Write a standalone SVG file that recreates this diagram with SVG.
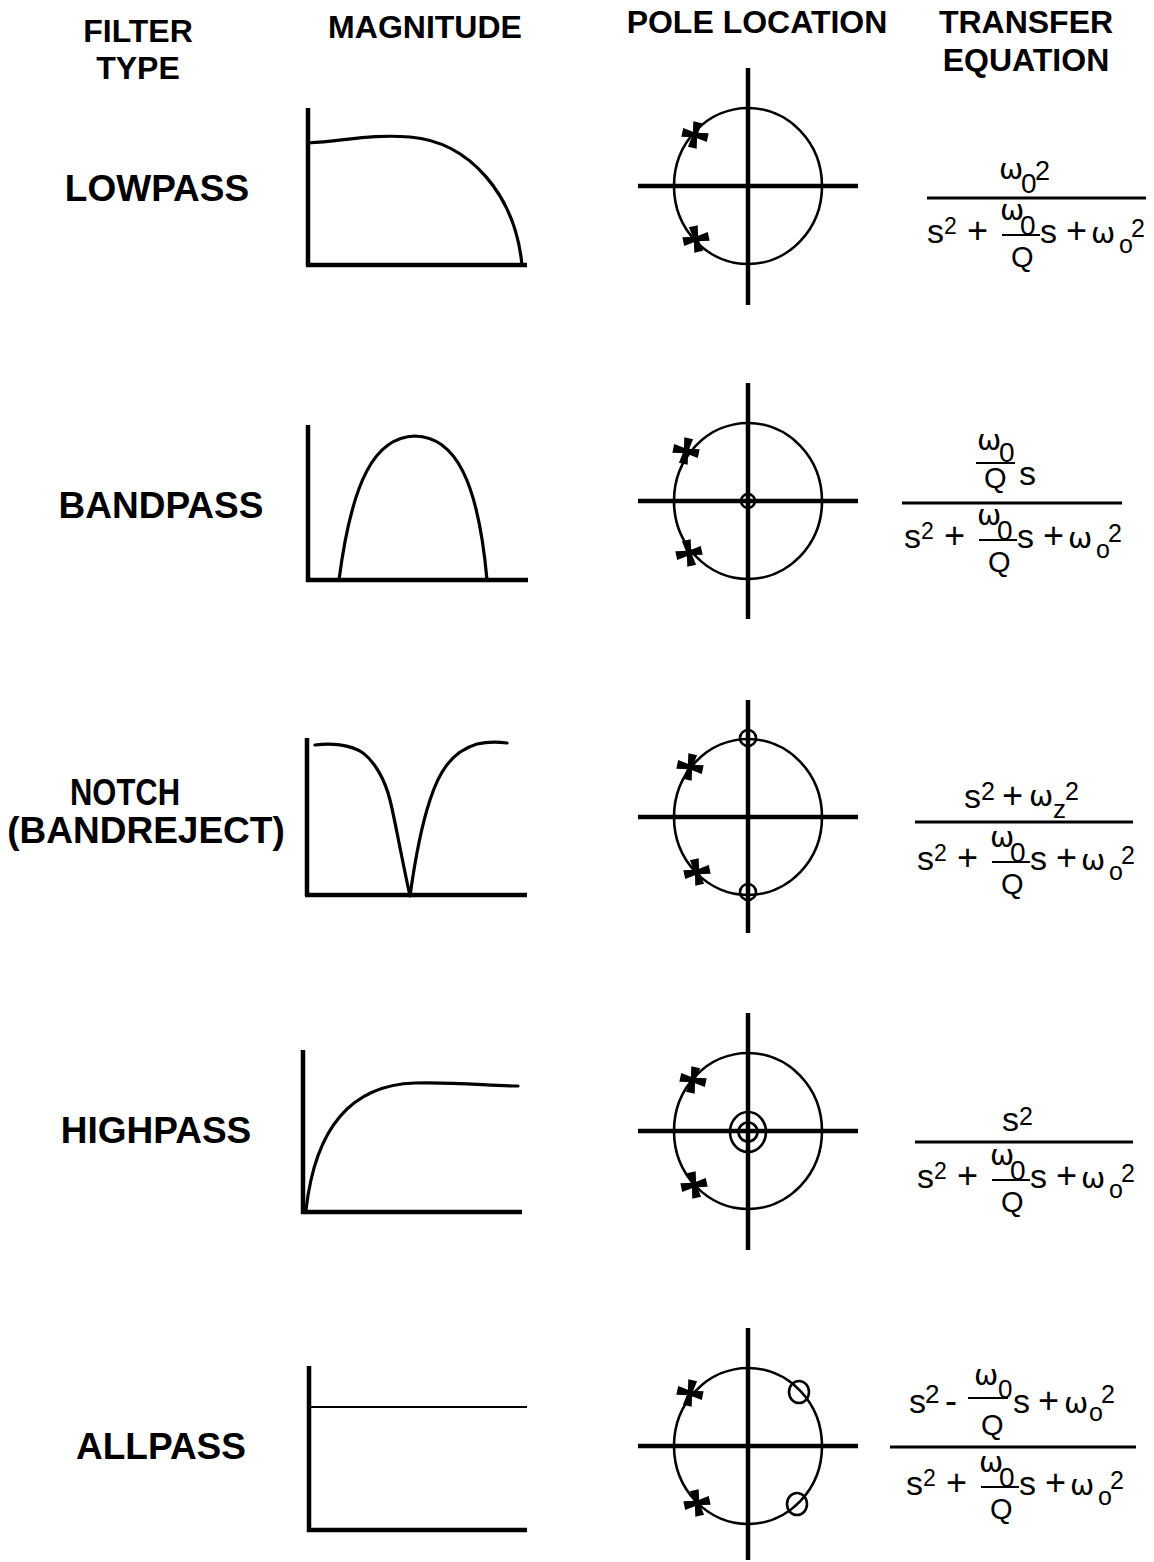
<svg xmlns="http://www.w3.org/2000/svg" xmlns:xlink="http://www.w3.org/1999/xlink" width="1154" height="1562" viewBox="0 0 1154 1562">
<style>
text{font-family:"Liberation Sans",Arial,sans-serif;fill:#000}
.hd{font-size:32px;font-weight:bold;text-anchor:middle}
.lb{font-size:37px;font-weight:bold;text-anchor:middle}
.m{font-size:34px}
.pl{font-size:36px}
.w{font-size:29px;font-family:"DejaVu Sans",sans-serif}
.d{font-size:28px}
.q{font-size:29px}
.s1{font-size:23px}
.s2{font-size:25px}
.ax{stroke:#000;stroke-width:4.5;fill:none}
.cv{stroke:#000;stroke-width:3.2;fill:none;stroke-linecap:round;stroke-linejoin:round}
.ci{stroke:#000;stroke-width:2.6;fill:none}
.bar{stroke:#000;stroke-width:3.2}
.sb{stroke:#000;stroke-width:2}
</style>
<defs>
<g id="pole" fill="#000">
<path d="M-4.5,-13 L4.5,-13 L2.2,0 L4.5,13 L-4.5,13 L-2.2,0 Z"/>
<path d="M-13,-4.5 L-13,4.5 L0,2.2 L13,4.5 L13,-4.5 L0,-2.2 Z"/>
</g>
<g id="den">
<text class="m" x="-1" y="0">s</text>
<text class="s1" x="16" y="-9">2</text>
<text class="pl" x="39" y="0">+</text>
<text class="w" x="72" y="-23">ω</text>
<text class="d" x="92" y="-8">0</text>
<line class="sb" x1="74" y1="-8" x2="112" y2="-8"/>
<text class="q" x="83" y="24">Q</text>
<text class="m" x="112" y="0">s</text>
<text class="pl" x="138" y="0">+</text>
<text class="w" x="163" y="0">ω</text>
<text class="s2" x="191" y="10">o</text>
<text class="s2" x="203" y="-6">2</text>
</g>
</defs>
<rect width="1154" height="1562" fill="#fff"/>

<g id="headers">
<text class="hd" x="138" y="42">FILTER</text>
<text class="hd" x="138" y="79">TYPE</text>
<text class="hd" x="425" y="38">MAGNITUDE</text>
<text class="hd" x="757" y="33">POLE LOCATION</text>
<text class="hd" x="1026" y="33">TRANSFER</text>
<text class="hd" x="1026" y="71">EQUATION</text>
</g>

<!-- Row 1 LOWPASS -->
<g id="lowpass-label"><text class="lb" x="157" y="201">LOWPASS</text></g>
<g id="lowpass-magnitude">
<line class="ax" x1="308" y1="108" x2="308" y2="266"/>
<line class="ax" x1="306" y1="265" x2="527" y2="265"/>
<path class="cv" d="M308,143 C345,141 370,134 410,137 C470,142 515,195 522,265"/>
</g>
<g id="lowpass-poles">
<ellipse class="ci" cx="748" cy="186" rx="74" ry="78"/>
<line class="ax" x1="638" y1="186" x2="858" y2="186"/>
<line class="ax" x1="748" y1="68" x2="748" y2="305"/>
<use xlink:href="#pole" transform="translate(695,135) rotate(12)"/>
<use xlink:href="#pole" transform="translate(696,239) rotate(-12)"/>
</g>
<g id="lowpass-equation">
<text class="w" x="999" y="179">ω</text>
<text class="d" x="1021" y="193">0</text>
<text class="s2" x="1035" y="180" style="font-size:27px">2</text>
<line class="bar" x1="927" y1="198" x2="1146" y2="198"/>
<use xlink:href="#den" transform="translate(928,243)"/>
</g>

<!-- Row 2 BANDPASS -->
<g id="bandpass-label"><text class="lb" x="161" y="518">BANDPASS</text></g>
<g id="bandpass-magnitude">
<line class="ax" x1="308" y1="425" x2="308" y2="582"/>
<line class="ax" x1="306" y1="580" x2="528" y2="580"/>
<path class="cv" d="M339,580 C352,480 375,437 415,436 C455,437 478,480 487,580"/>
</g>
<g id="bandpass-poles">
<ellipse class="ci" cx="748" cy="501" rx="74" ry="78"/>
<line class="ax" x1="638" y1="501" x2="858" y2="501"/>
<line class="ax" x1="748" y1="383" x2="748" y2="619"/>
<circle class="ci" cx="748" cy="501" r="7"/>
<use xlink:href="#pole" transform="translate(686,451) rotate(12)"/>
<use xlink:href="#pole" transform="translate(689,553) rotate(-12)"/>
</g>
<g id="bandpass-equation">
<text class="w" x="977" y="450">ω</text>
<text class="d" x="999" y="462">0</text>
<line class="sb" x1="976" y1="463" x2="1015" y2="463"/>
<text class="q" x="984" y="488">Q</text>
<text class="m" x="1019" y="485">s</text>
<line class="bar" x1="902" y1="503" x2="1122" y2="503"/>
<use xlink:href="#den" transform="translate(905,548)"/>
</g>

<!-- Row 3 NOTCH -->
<g id="notch-label">
<text class="lb" x="125" y="805" textLength="110" lengthAdjust="spacingAndGlyphs">NOTCH</text>
<text class="lb" x="146" y="843">(BANDREJECT)</text>
</g>
<g id="notch-magnitude">
<line class="ax" x1="307" y1="738" x2="307" y2="896"/>
<line class="ax" x1="305" y1="895" x2="527" y2="895"/>
<path class="cv" d="M315,745 C330,743 350,744 363,753 C375,762 385,780 390,800 C395,820 400,850 410,896 C415,860 420,830 430,800 C438,775 450,752 477,744 C490,741 500,742 507,743"/>
</g>
<g id="notch-poles">
<ellipse class="ci" cx="748" cy="817" rx="74" ry="78"/>
<line class="ax" x1="638" y1="817" x2="858" y2="817"/>
<line class="ax" x1="748" y1="700" x2="748" y2="933"/>
<circle class="ci" cx="748" cy="738" r="8"/>
<circle class="ci" cx="748" cy="892" r="8"/>
<use xlink:href="#pole" transform="translate(690,767) rotate(12)"/>
<use xlink:href="#pole" transform="translate(697,872) rotate(-12)"/>
</g>
<g id="notch-equation">
<text class="m" x="964" y="808">s</text>
<text class="s2" x="981" y="800">2</text>
<text class="pl" x="1002" y="808">+</text>
<text class="w" x="1029" y="806">ω</text>
<text class="s2" x="1053" y="818" style="font-size:26px">z</text>
<text class="s2" x="1065" y="800">2</text>
<line class="bar" x1="915" y1="822" x2="1133" y2="822"/>
<use xlink:href="#den" transform="translate(918,870)"/>
</g>

<!-- Row 4 HIGHPASS -->
<g id="highpass-label"><text class="lb" x="156" y="1143">HIGHPASS</text></g>
<g id="highpass-magnitude">
<line class="ax" x1="303" y1="1050" x2="303" y2="1214"/>
<line class="ax" x1="301" y1="1212" x2="522" y2="1212"/>
<path class="cv" d="M306,1210 C315,1130 350,1085 415,1083 C460,1082 490,1086 518,1086"/>
</g>
<g id="highpass-poles">
<ellipse class="ci" cx="748" cy="1131" rx="74" ry="78"/>
<line class="ax" x1="638" y1="1131" x2="858" y2="1131"/>
<line class="ax" x1="748" y1="1013" x2="748" y2="1250"/>
<ellipse class="ci" cx="748" cy="1132" rx="18" ry="20"/>
<circle class="ci" cx="748" cy="1132" r="9.5"/>
<use xlink:href="#pole" transform="translate(693,1080) rotate(12)"/>
<use xlink:href="#pole" transform="translate(694,1185) rotate(-12)"/>
</g>
<g id="highpass-equation">
<text class="m" x="1002" y="1131">s</text>
<text class="s2" x="1019" y="1125">2</text>
<line class="bar" x1="915" y1="1142" x2="1133" y2="1142"/>
<use xlink:href="#den" transform="translate(918,1188)"/>
</g>

<!-- Row 5 ALLPASS -->
<g id="allpass-label"><text class="lb" x="161" y="1459">ALLPASS</text></g>
<g id="allpass-magnitude">
<line class="ax" x1="309" y1="1366" x2="309" y2="1532"/>
<line class="ax" x1="307" y1="1530" x2="527" y2="1530"/>
<line x1="309" y1="1407" x2="527" y2="1407" stroke="#000" stroke-width="2"/>
</g>
<g id="allpass-poles">
<ellipse class="ci" cx="748" cy="1446" rx="74" ry="78"/>
<line class="ax" x1="638" y1="1446" x2="858" y2="1446"/>
<line class="ax" x1="748" y1="1328" x2="748" y2="1560"/>
<ellipse class="ci" cx="799" cy="1392" rx="10" ry="11"/>
<ellipse class="ci" cx="797" cy="1504" rx="10" ry="11"/>
<use xlink:href="#pole" transform="translate(690,1393) rotate(12)"/>
<use xlink:href="#pole" transform="translate(697,1503) rotate(-12)"/>
</g>
<g id="allpass-equation">
<text class="m" x="909" y="1413">s</text>
<text class="s2" x="925" y="1403" style="font-size:26px">2</text>
<text class="pl" x="945" y="1413">-</text>
<text class="w" x="974" y="1385">ω</text>
<text class="d" x="998" y="1398" style="font-size:26px">0</text>
<line class="sb" x1="968" y1="1398" x2="1008" y2="1398"/>
<text class="q" x="981" y="1435">Q</text>
<text class="m" x="1013" y="1413">s</text>
<text class="pl" x="1038" y="1413">+</text>
<text class="w" x="1064" y="1413">ω</text>
<text class="s2" x="1089" y="1421">o</text>
<text class="s2" x="1101" y="1403">2</text>
<line class="bar" x1="890" y1="1447" x2="1136" y2="1447"/>
<use xlink:href="#den" transform="translate(907,1495)"/>
</g>
</svg>
